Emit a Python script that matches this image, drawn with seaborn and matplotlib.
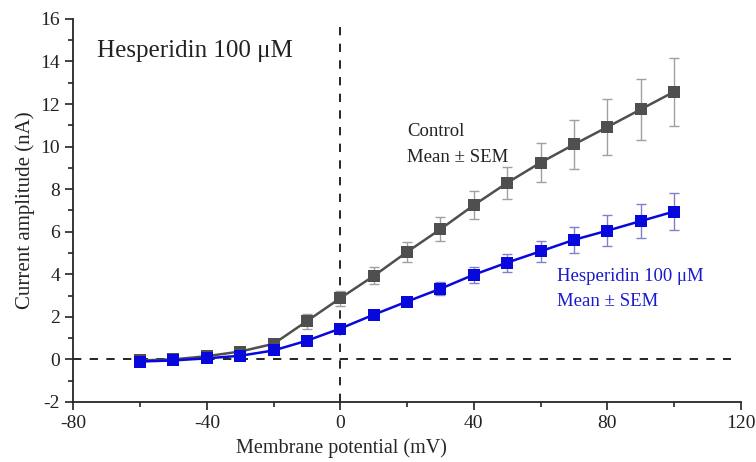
import numpy as np
import pandas as pd
import matplotlib
matplotlib.use("Agg")
import matplotlib.pyplot as plt
import seaborn as sns
from matplotlib.ticker import MultipleLocator

# membrane potential steps (mV)
voltage = [-60, -50, -40, -30, -20, -10, 0, 10, 20, 30, 40, 50, 60, 70, 80, 90, 100]

# current amplitude (nA)
control_mean = [-0.05, 0.0, 0.15, 0.37, 0.73, 1.8, 2.88, 3.92, 5.05, 6.12, 7.25, 8.3, 9.25, 10.1, 10.92, 11.75, 12.58]
control_sem = [0.05, 0.05, 0.08, 0.1, 0.15, 0.35, 0.35, 0.4, 0.45, 0.55, 0.65, 0.75, 0.9, 1.15, 1.3, 1.45, 1.6]

hesp_mean = [-0.1, -0.05, 0.05, 0.17, 0.42, 0.88, 1.45, 2.1, 2.72, 3.32, 3.98, 4.55, 5.08, 5.62, 6.05, 6.5, 6.95]
hesp_sem = [0.05, 0.05, 0.05, 0.08, 0.1, 0.12, 0.15, 0.15, 0.15, 0.3, 0.38, 0.42, 0.5, 0.6, 0.72, 0.8, 0.88]

df = pd.concat([
    pd.DataFrame({"V": voltage, "I": control_mean, "sem": control_sem, "group": "Control"}),
    pd.DataFrame({"V": voltage, "I": hesp_mean, "sem": hesp_sem, "group": "Hesperidin"}),
])

sns.set_style("ticks")
plt.rcParams["font.family"] = ["Liberation Serif", "DejaVu Serif"]
plt.rcParams["axes.unicode_minus"] = False

fig = plt.figure(figsize=(7.56, 4.62), dpi=100)
ax = fig.add_axes([0.097, 0.13, 0.883, 0.829])

colors = {"Control": "#4f4f4f", "Hesperidin": "#0808dc"}
err_colors = {"Control": "#a0a0a0", "Hesperidin": "#8080c8"}

# reference lines
ax.axhline(0, color="black", ls=(0, (5, 5)), lw=1.2, xmax=0.985, zorder=1)
ax.axvline(0, color="black", ls=(0, (5, 5)), lw=1.2, zorder=1)

for g in ["Control", "Hesperidin"]:
    d = df[df["group"] == g]
    ax.errorbar(d["V"], d["I"], yerr=d["sem"], fmt="none", ecolor=err_colors[g],
                elinewidth=1.0, capsize=3.5, capthick=1.0, zorder=2)

sns.lineplot(data=df, x="V", y="I", hue="group", palette=colors, marker="s",
             markersize=9, markeredgewidth=0, linewidth=1.8, legend=False, ax=ax, zorder=3)

ax.set_xlim(-80, 120)
ax.set_ylim(-2, 16)
ax.xaxis.set_major_locator(MultipleLocator(40))
ax.xaxis.set_minor_locator(MultipleLocator(20))
ax.yaxis.set_major_locator(MultipleLocator(2))
ax.yaxis.set_minor_locator(MultipleLocator(1))
ax.tick_params(which="major", length=6, width=1.2, labelsize=14, colors="#222222")
ax.tick_params(which="minor", length=3.5, width=1.2)
for s in ["left", "bottom"]:
    ax.spines[s].set_linewidth(1.3)
sns.despine(ax=ax)

ax.set_xlabel("Membrane potential (mV)", fontsize=14.5)
ax.xaxis.set_label_coords(0.401, -0.095)
ax.set_ylabel("Current amplitude (nA)", fontsize=15, labelpad=4)

ax.text(-72.8, 14.5, "Hesperidin 100 μM", fontsize=18, va="center", ha="left", color="#222222")
ax.text(20, 10.7, "Control", fontsize=13.5, va="center", ha="left", color="#222222")
ax.text(20, 9.5, "Mean ± SEM", fontsize=13.5, va="center", ha="left", color="#222222")
ax.text(65, 3.9, "Hesperidin 100 μM", fontsize=13.5, va="center", ha="left", color="#1a1acc")
ax.text(65, 2.7, "Mean ± SEM", fontsize=13.5, va="center", ha="left", color="#1a1acc")

fig.savefig("out.png", dpi=100)
